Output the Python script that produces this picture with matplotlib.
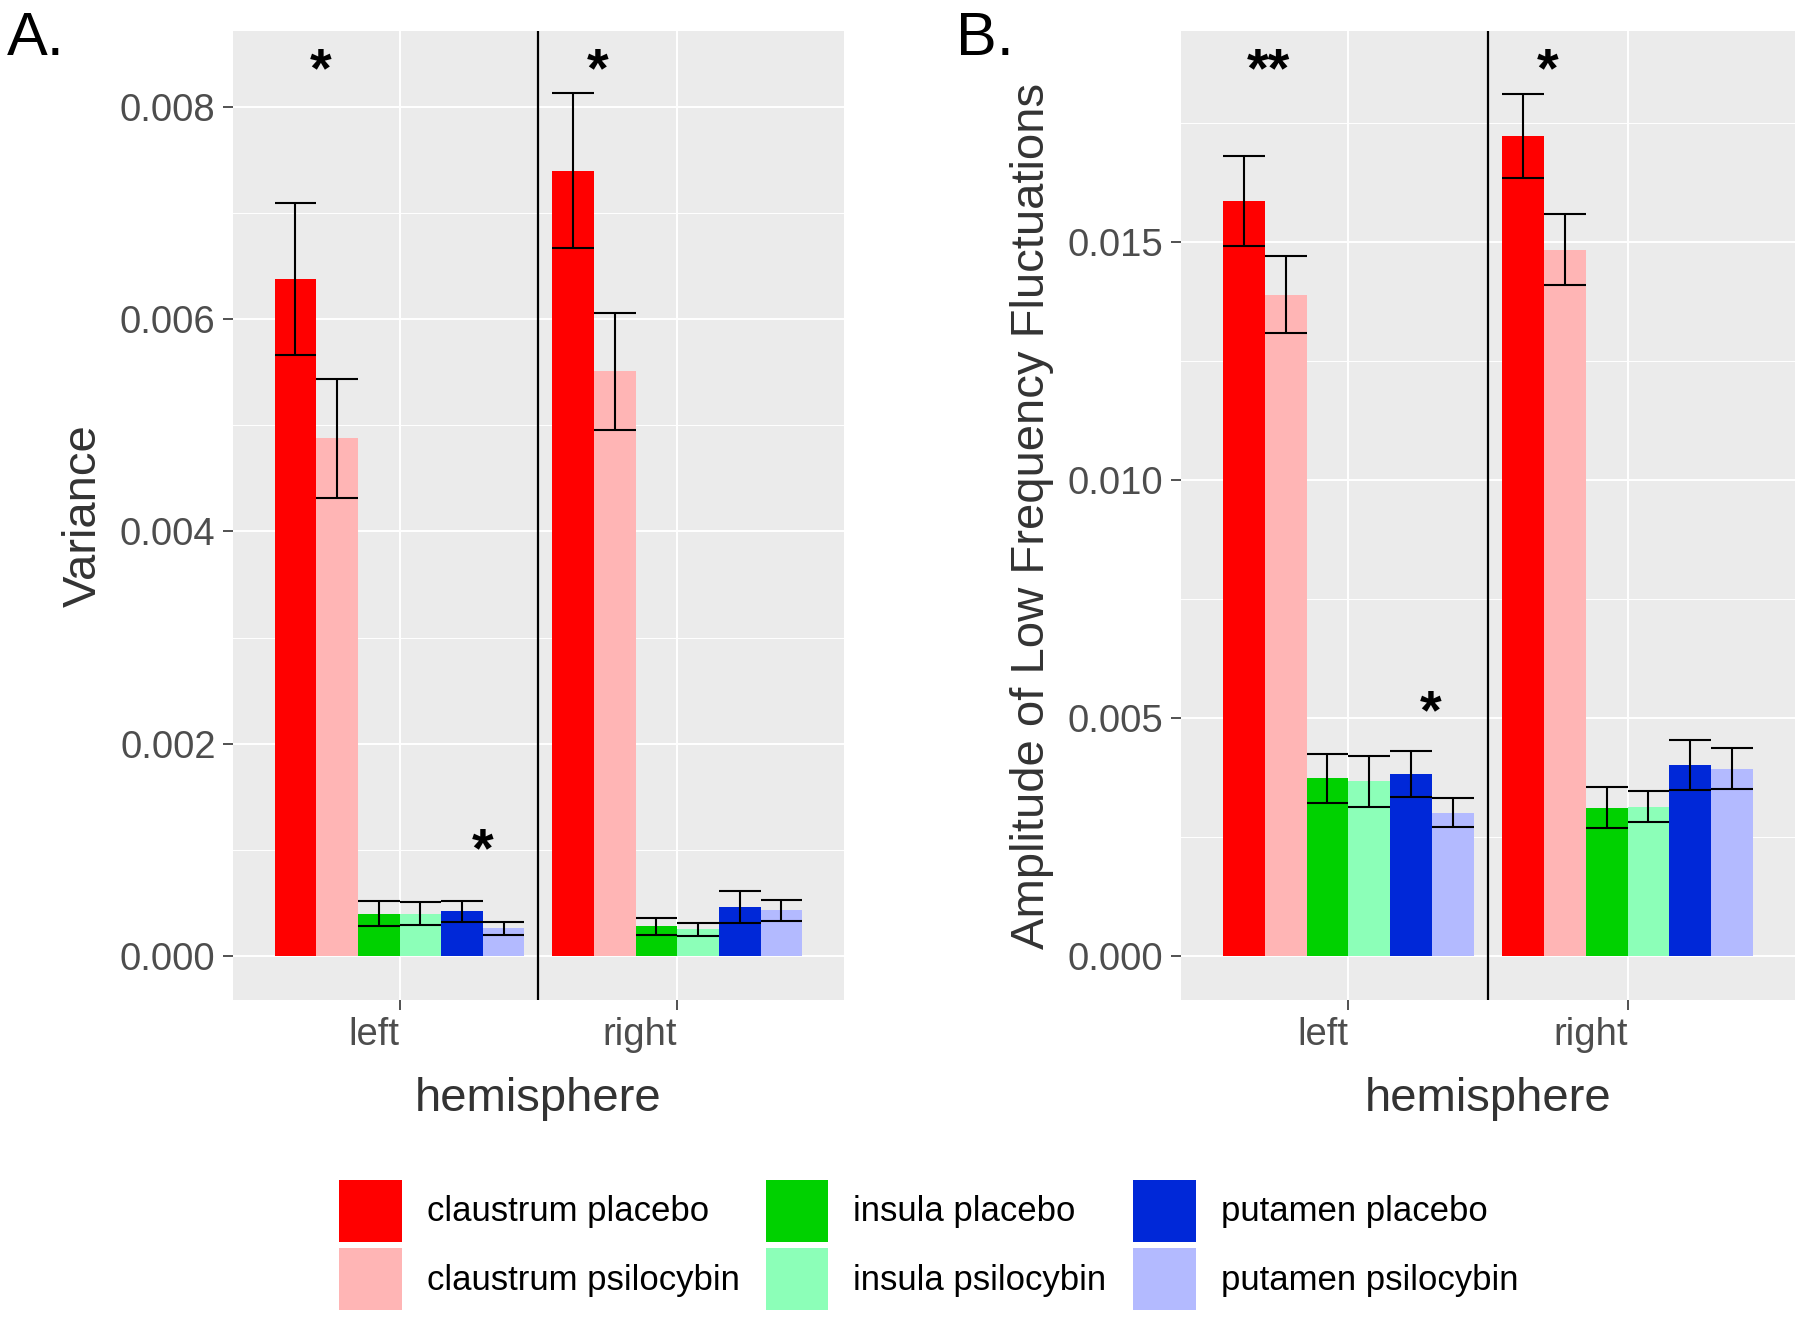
import matplotlib
matplotlib.use("Agg")
from matplotlib import pyplot as plt
from matplotlib.patches import Patch
from matplotlib.ticker import MultipleLocator
import numpy as np

plt.rcParams['font.family'] = ['Liberation Sans', 'DejaVu Sans']

hemis = ['left', 'right']
groups = ['claustrum placebo', 'claustrum psilocybin', 'insula placebo',
          'insula psilocybin', 'putamen placebo', 'putamen psilocybin']
colores = ['#FF0000', '#FFB5B5', '#00D100', '#8CFFB8', '#0028D8', '#B3BAFF']

# Painel A - variancia (linhas = grupos, colunas = left/right)
var_media = [[0.00638, 0.00740],
             [0.00488, 0.00551],
             [0.00040, 0.00028],
             [0.00040, 0.00025],
             [0.00042, 0.00046],
             [0.00026, 0.00043]]
var_erro = [[0.00072, 0.00073],
            [0.00056, 0.00055],
            [0.00012, 0.00008],
            [0.00011, 0.00006],
            [0.00010, 0.00015],
            [0.00006, 0.00010]]

# Painel B - ALFF
alff_media = [[0.01586, 0.01722],
              [0.01389, 0.01484],
              [0.00373, 0.00311],
              [0.00367, 0.00314],
              [0.00382, 0.00401],
              [0.00301, 0.00393]]
alff_erro = [[0.00095, 0.00088],
             [0.00081, 0.00074],
             [0.00051, 0.00043],
             [0.00054, 0.00033],
             [0.00048, 0.00052],
             [0.00030, 0.00043]]

# asteriscos de significancia
var_sig_x = [0.715, 1.715, 1.30]
var_sig_y = [0.00833, 0.00833, 0.00098]
var_sig_txt = ['*', '*', '*']
alff_sig_x = [0.715, 1.715, 1.295]
alff_sig_y = [0.01857, 0.01857, 0.00508]
alff_sig_txt = ['**', '*', '*']

largura = 0.15
cinza = '#4D4D4D'


def painel(ax, media, erro, sig_x, sig_y, sig_txt, ylim, passo, ylabel):
    ax.set_facecolor('#EBEBEB')
    centros = np.arange(1, len(hemis) + 1)
    for g in range(len(groups)):
        x = centros + (g - 2.5) * largura
        m = np.array(media[g])
        e = np.array(erro[g])
        ax.bar(x, m, width=largura, color=colores[g], zorder=3, linewidth=0)
        ax.vlines(x, m - e, m + e, color='black', linewidth=1.5, zorder=4)
        ax.hlines(m - e, x - largura / 2, x + largura / 2, color='black', linewidth=1.5, zorder=4)
        ax.hlines(m + e, x - largura / 2, x + largura / 2, color='black', linewidth=1.5, zorder=4)
    for sx, sy, st in zip(sig_x, sig_y, sig_txt):
        ax.text(sx, sy, st, ha='center', va='center', fontsize=40, fontweight='bold', zorder=5)
    ax.axvline(1.5, color='black', linewidth=1.6, zorder=4)
    ax.set_xlim(0.4, 2.6)
    ax.set_ylim(*ylim)
    ax.set_xticks(centros)
    ax.set_xticklabels(hemis, ha='right')
    ax.yaxis.set_major_locator(MultipleLocator(passo))
    ax.yaxis.set_minor_locator(MultipleLocator(passo / 2))
    ax.yaxis.set_major_formatter(matplotlib.ticker.FormatStrFormatter('%.3f'))
    ax.grid(which='major', color='white', linewidth=1.4, zorder=0)
    ax.grid(which='minor', axis='y', color='white', linewidth=0.7, zorder=0)
    ax.set_axisbelow(True)
    for s in ax.spines.values():
        s.set_visible(False)
    ax.tick_params(axis='both', which='major', length=7.5, width=1.2, color='#333333',
                   labelsize=27.5, labelcolor=cinza, pad=5)
    ax.tick_params(axis='y', which='minor', length=0)
    ax.set_xlabel('hemisphere', fontsize=34, color='#333333', labelpad=17)
    ax.set_ylabel(ylabel, fontsize=34, color='#333333', labelpad=10)


fig = plt.figure(figsize=(18, 13.2), dpi=100)
axA = fig.add_axes([0.1294, 0.2424, 0.3394, 0.7341])
axB = fig.add_axes([0.6561, 0.2424, 0.3411, 0.7341])

painel(axA, var_media, var_erro, var_sig_x, var_sig_y, var_sig_txt,
       (-0.000415, 0.008716), 0.002, 'Variance')
painel(axB, alff_media, alff_erro, alff_sig_x, alff_sig_y, alff_sig_txt,
       (-0.000925, 0.01943), 0.005, 'Amplitude of Low Frequency Fluctuations')

fig.text(0.004, 0.992, 'A.', fontsize=44, va='top', ha='left')
fig.text(0.531, 0.992, 'B.', fontsize=44, va='top', ha='left')

alcas = [Patch(facecolor=c, edgecolor='none') for c in colores]
fig.legend(alcas, groups, loc='center', bbox_to_anchor=(0.5158, 0.0568), ncol=3,
           frameon=False, fontsize=25, handlelength=1.81, handleheight=2.37,
           handletextpad=0.72, columnspacing=0.75, labelspacing=0.2)

fig.savefig('out.png', dpi=100)
